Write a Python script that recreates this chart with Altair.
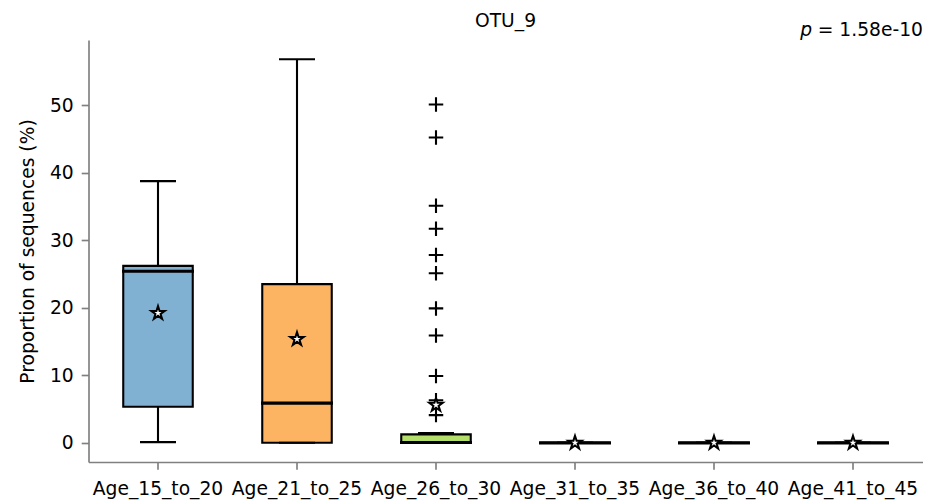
import altair as alt
import pandas as pd

groups = ["Age_15_to_20", "Age_21_to_25", "Age_26_to_30", "Age_31_to_35", "Age_36_to_40", "Age_41_to_45"]
whislo = [0.1, 0.0, 0.0, 0.0, 0.0, 0.0]
q1 = [5.33, 0.0, 0.0, 0.0, 0.0, 0.0]
median = [25.4, 5.88, 0.05, 0.0, 0.0, 0.0]
q3 = [26.2, 23.5, 1.25, 0.0, 0.0, 0.0]
whishi = [38.75, 56.8, 1.45, 0.0, 0.0, 0.0]
means = [19.2, 15.35, 5.6, 0.0, 0.0, 0.0]
colors = ["#80b1d3", "#fdb462", "#b3de69", "#fccde5", "#d9d9d9", "#bc80bd"]

outlier_group = ["Age_26_to_30"] * 11
outlier_vals = [50.1, 45.2, 35.1, 31.7, 27.8, 25.1, 19.9, 15.9, 9.9, 6.3, 4.1]

title_text = "OTU_9"
p_label = "p"
p_value_text = " = 1.58e-10"
y_title = "Proportion of sequences (%)"
y_ticks = [0, 10, 20, 30, 40, 50]

FONT = "DejaVu Sans"
FS = 18.7
W, H = 834, 422
SPINE = "#808080"

stats = pd.DataFrame({
    "group": groups, "whislo": whislo, "q1": q1, "median": median,
    "q3": q3, "whishi": whishi, "mean": means,
})
outliers = pd.DataFrame({"group": outlier_group, "value": outlier_vals})

xscale = alt.Scale(domain=groups, paddingInner=0, paddingOuter=0)
yscale = alt.Scale(domain=[-2.84, 59.64], nice=False, zero=False)

xaxis = alt.Axis(title=None, labelAngle=0, labelFontSize=FS, labelFont=FONT, labelColor="#000000",
                 tickSize=7.3, tickWidth=1.67, tickColor=SPINE, domainColor=SPINE, domainWidth=1.67,
                 labelPadding=10, grid=False)
yaxis = alt.Axis(title=y_title, values=y_ticks, labelFontSize=FS, labelFont=FONT, labelColor="#000000",
                 tickSize=7.3, tickWidth=1.67, tickColor=SPINE, domainColor=SPINE, domainWidth=1.67,
                 labelPadding=8, grid=False, titleFontSize=FS, titleFont=FONT, titleFontWeight="normal",
                 titleColor="#000000", titlePadding=12)

X = alt.X("group:N", scale=xscale, axis=xaxis, sort=groups)

base = alt.Chart(stats)

boxes = base.mark_bar(size=69.5, stroke="black", strokeWidth=2.1).encode(
    x=X,
    y=alt.Y("q1:Q", scale=yscale, axis=yaxis),
    y2="q3:Q",
    color=alt.Color("group:N", scale=alt.Scale(domain=groups, range=colors), legend=None),
)
whisk_lo = base.mark_rule(color="black", strokeWidth=2.1).encode(x=X, y="whislo:Q", y2="q1:Q")
whisk_hi = base.mark_rule(color="black", strokeWidth=2.1).encode(x=X, y="q3:Q", y2="whishi:Q")
cap_lo = base.mark_tick(color="black", size=36, thickness=2.1, orient="horizontal", opacity=1).encode(x=X, y="whislo:Q")
cap_hi = base.mark_tick(color="black", size=36, thickness=2.1, orient="horizontal", opacity=1).encode(x=X, y="whishi:Q")
med = base.mark_tick(color="black", size=72, thickness=3.2, orient="horizontal", opacity=1).encode(x=X, y="median:Q")

plus_path = "M-1,0H1M0,-1V1"
fliers = alt.Chart(outliers).mark_point(shape=plus_path, size=210, filled=False, color="black",
                                        strokeWidth=2.1, opacity=1).encode(x=X, y="value:Q")

star_path = ("M0,-1L0.2245,-0.309L0.9511,-0.309L0.3633,0.118L0.5878,0.809L0,0.382"
             "L-0.5878,0.809L-0.3633,0.118L-0.9511,-0.309L-0.2245,-0.309Z")
stars = base.mark_point(shape=star_path, size=200, filled=True, fill="white", stroke="black",
                        strokeWidth=2.0, opacity=1).encode(x=X, y="mean:Q")

ann = pd.DataFrame({"a": [0]})
title_mark = alt.Chart(ann).mark_text(text=title_text, font=FONT, fontSize=FS, align="center",
                                      baseline="alphabetic", color="black").encode(
    x=alt.value(W / 2), y=alt.value(-13.3))
p_italic = alt.Chart(ann).mark_text(text=p_label, font=FONT, fontSize=FS, fontStyle="italic",
                                     align="right", baseline="alphabetic", color="black").encode(
    x=alt.value(723.5), y=alt.value(-4))
p_rest = alt.Chart(ann).mark_text(text=p_value_text, font=FONT, fontSize=FS,
                                   align="right", baseline="alphabetic", color="black").encode(
    x=alt.value(834.5), y=alt.value(-4))

chart = alt.layer(boxes, whisk_lo, whisk_hi, cap_lo, cap_hi, med, fliers, stars,
                  title_mark, p_italic, p_rest).properties(
    width=W, height=H,
    view=alt.ViewBackground(stroke="transparent", strokeWidth=0, strokeOpacity=0),
    autosize=alt.AutoSizeParams(type="none"),
    padding={"left": 88.5, "top": 40, "right": 22.5, "bottom": 38},
).configure_view(stroke="transparent", strokeWidth=0, strokeOpacity=0).configure(background="white")

chart.save("out.html", embed_options={"renderer": "svg", "actions": False})
